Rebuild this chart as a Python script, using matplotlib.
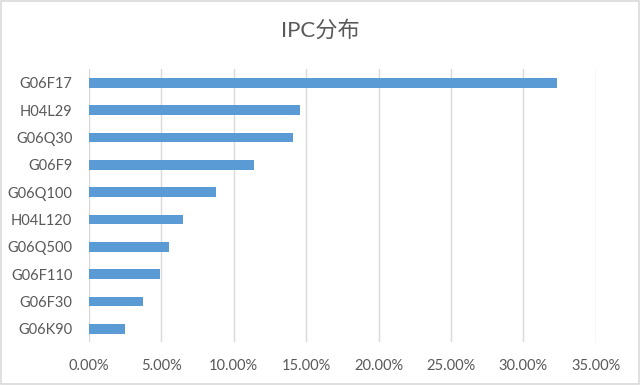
import matplotlib
matplotlib.use('Agg')
from matplotlib import pyplot as plt
from matplotlib.ticker import FuncFormatter, MultipleLocator
from matplotlib.patches import Rectangle

plt.rcParams['font.family'] = ['Lato', 'Noto Sans CJK SC', 'DejaVu Sans']

# Данные (сверху вниз)
categories = ['G06F17', 'H04L29', 'G06Q30', 'G06F9', 'G06Q100',
              'H04L120', 'G06Q500', 'G06F110', 'G06F30', 'G06K90']
shares = [32.3, 14.6, 14.1, 11.4, 8.8, 6.5, 5.5, 4.9, 3.7, 2.5]
title = 'IPC分布'

text_color = '#595959'
bar_color = '#5B9BD5'
grid_color = '#D9D9D9'

fig = plt.figure(figsize=(6.4, 3.85), dpi=100)
ax = fig.add_axes([0.139, 0.1106, 0.792, 0.7094])

y = list(range(len(categories)))
ax.barh(y, shares, height=0.36, color=bar_color, zorder=3)
ax.set_yticks(y)
ax.set_yticklabels(categories)
ax.set_ylim(len(categories) - 0.5, -0.5)
ax.set_xlim(0, 35)

ax.xaxis.set_major_locator(MultipleLocator(5))
ax.xaxis.set_major_formatter(FuncFormatter(lambda v, p: f'{v:.2f}%'))
ax.grid(axis='x', color=grid_color, linewidth=1, zorder=0)

for s in ax.spines.values():
    s.set_visible(False)
ax.tick_params(axis='both', length=0, colors=text_color, labelsize=10.5)
ax.tick_params(axis='x', pad=12)
ax.tick_params(axis='y', pad=12)

fig.text(0.5, 0.92, title, ha='center', va='center', fontsize=16, color=text_color)

# Рамка диаграммы
fig.patches.append(Rectangle((0.002, 0.003), 0.996, 0.994, transform=fig.transFigure,
                             fill=False, edgecolor='#D9D9D9', linewidth=1.2))

fig.savefig('out.png', dpi=100)
